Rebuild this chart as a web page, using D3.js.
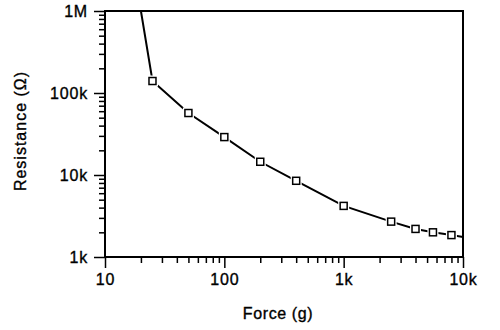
<!DOCTYPE html>
<html>
<head>
<meta charset="utf-8">
<script src="https://cdn.jsdelivr.net/npm/d3@7"></script>
<style>
  body { margin: 0; background: #fff; }
  text { font-family: "Liberation Sans", Arial, sans-serif; fill: #000; stroke: #000; stroke-width: 0.35px; }
</style>
</head>
<body>
<svg id="chart"></svg>
<script>
// force vs resistance
const forceG = [20, 25, 50, 100, 200, 400, 1000, 2500, 4000, 5600, 8000, 10000];
const resistanceOhm = [1.0e6, 140e3, 57e3, 29e3, 14.5e3, 8.5e3, 4.2e3, 2.7e3, 2.2e3, 2.0e3, 1.85e3, 1.75e3];
// first and last entries are just where the line leaves the frame, no marker
const hasMarker = [false, true, true, true, true, true, true, true, true, true, true, false];

const xTickValues = [10, 100, 1000, 10000];
const xTickLabels = ["10", "100", "1k", "10k"];
const yTickValues = [1e3, 1e4, 1e5, 1e6];
const yTickLabels = ["1k", "10k", "100k", "1M"];

const createChart = function () {
    const width = 500;
    const height = 330;
    const margin = {top: 11, right: 37, bottom: 73, left: 105};
    const MAJOR_TICK = 11;
    const MINOR_TICK = 6;

    const svg = d3.select("#chart")
        .attr("width", width)
        .attr("height", height);

    const x = d3.scaleLog().domain([10, 10000]).range([margin.left, width - margin.right]);
    const y = d3.scaleLog().domain([1e3, 1e6]).range([height - margin.bottom, margin.top]);

    // minor ticks 2..9 in every decade
    const minorX = [], minorY = [];
    for (let d = 10; d < 10000; d *= 10) for (let k = 2; k < 10; k++) minorX.push(d * k);
    for (let d = 1e3; d < 1e6; d *= 10) for (let k = 2; k < 10; k++) minorY.push(d * k);

    const xAxis = svg.append("g")
        .attr("transform", `translate(0, ${height - margin.bottom})`);
    xAxis.call(d3.axisBottom(x).tickValues(minorX).tickSize(MINOR_TICK).tickFormat(""));
    xAxis.append("g").call(d3.axisBottom(x).tickValues(xTickValues).tickSize(MAJOR_TICK)
        .tickPadding(6).tickFormat((d, i) => xTickLabels[i]));

    const yAxis = svg.append("g")
        .attr("transform", `translate(${margin.left}, 0)`);
    yAxis.call(d3.axisLeft(y).tickValues(minorY).tickSize(MINOR_TICK).tickFormat(""));
    yAxis.append("g").call(d3.axisLeft(y).tickValues(yTickValues).tickSize(MAJOR_TICK)
        .tickPadding(6).tickFormat((d, i) => yTickLabels[i]));

    svg.selectAll(".domain").remove();
    svg.selectAll(".tick line").attr("stroke", "#000").attr("stroke-width", 1.5);
    svg.selectAll(".tick text")
        .attr("font-size", 16)
        .attr("letter-spacing", "0.8px")
        .attr("font-family", "Liberation Sans, Arial, sans-serif");

    // frame
    svg.append("rect")
        .attr("x", x.range()[0])
        .attr("y", y.range()[1])
        .attr("width", x.range()[1] - x.range()[0])
        .attr("height", y.range()[0] - y.range()[1])
        .attr("fill", "none")
        .attr("stroke", "#000")
        .attr("stroke-width", 2);

    const pts = forceG.map((f, i) => ({f: f, r: resistanceOhm[i], m: hasMarker[i]}));

    const line = d3.line()
        .x(d => x(d.f))
        .y(d => y(d.r));

    svg.append("path")
        .datum(pts)
        .attr("d", line)
        .attr("fill", "none")
        .attr("stroke", "#000")
        .attr("stroke-width", 2);

    const marks = svg.append("g").selectAll("g")
        .data(pts.filter(d => d.m))
        .enter().append("g")
        .attr("transform", d => `translate(${x(d.f)}, ${y(d.r)})`);
    // white halo so the line stops short of each square
    marks.append("rect")
        .attr("x", -5.5).attr("y", -5.5).attr("width", 11).attr("height", 11)
        .attr("fill", "#fff");
    marks.append("rect")
        .attr("x", -3.5).attr("y", -3.5).attr("width", 7).attr("height", 7)
        .attr("fill", "#fff")
        .attr("stroke", "#000")
        .attr("stroke-width", 1.5);

    svg.append("text")
        .attr("x", 278)
        .attr("y", 319)
        .attr("text-anchor", "middle")
        .attr("font-size", 16)
        .attr("letter-spacing", "0.6px")
        .text("Force (g)");

    svg.append("text")
        .attr("transform", "translate(26, 131) rotate(-90)")
        .attr("text-anchor", "middle")
        .attr("font-size", 16)
        .attr("letter-spacing", "1px")
        .text("Resistance (Ω)");
};

createChart();
</script>
</body>
</html>
